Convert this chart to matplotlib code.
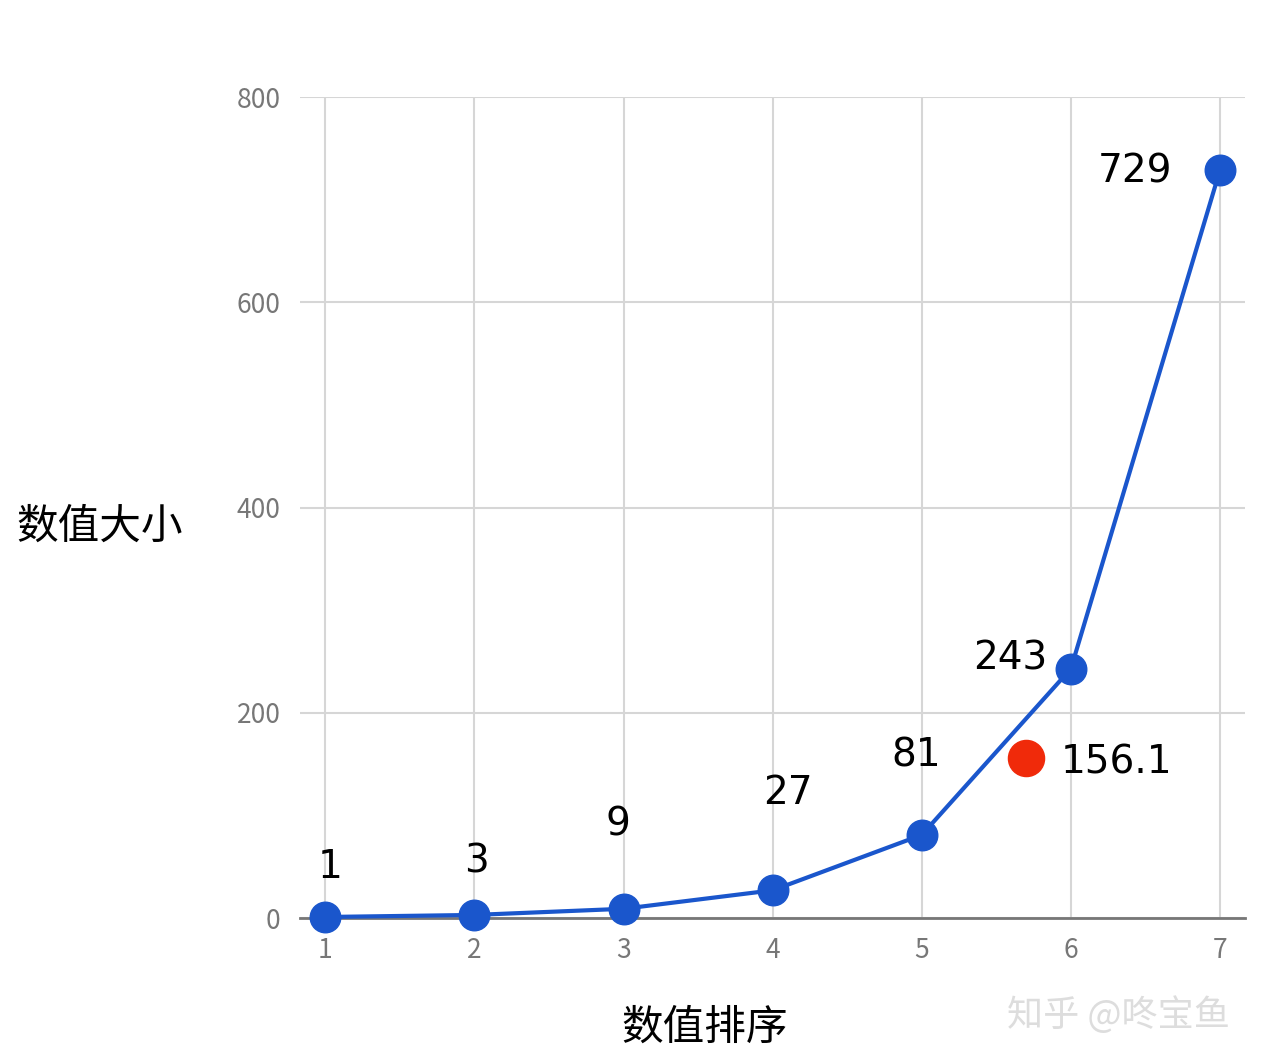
import matplotlib
matplotlib.use("Agg")
import matplotlib.pyplot as plt

plt.rcParams['font.family'] = ['Noto Sans CJK SC', 'DejaVu Sans']

x_vals = [1, 2, 3, 4, 5, 6, 7]
y_vals = [1, 3, 9, 27, 81, 243, 729]
red_x = 5.7
red_y = 156.1
labels = ["1", "3", "9", "27", "81", "243", "729"]
x_ticks = [1, 2, 3, 4, 5, 6, 7]
y_ticks = [0, 200, 400, 600, 800]

# label offsets in pixels (dx, dy up)
offs = [(5, 50), (2, 53), (-6, 84), (15, 97), (-6, 79), (-61, 10), (-85, -2)]

fig = plt.figure(figsize=(12.69, 10.64), dpi=100)
ax = fig.add_axes([0.2364, 0.1372, 0.745, 0.7716])
blue = '#1a56cc'
ax.plot(x_vals, y_vals, color=blue, lw=3, marker='o', ms=22, zorder=3, clip_on=False)
ax.plot([red_x], [red_y], 'o', color='#f02a0a', ms=26, zorder=4)
for xv, yv, lab, (dx, dy) in zip(x_vals, y_vals, labels, offs):
    ax.annotate(lab, (xv, yv), xytext=(dx * 0.72, dy * 0.72), textcoords='offset points',
                ha='center', va='center', fontsize=28, color='black', family='DejaVu Sans')
ax.annotate(f"{red_y}", (red_x, red_y), xytext=(90 * 0.72, -5 * 0.72), textcoords='offset points',
            ha='center', va='center', fontsize=28, color='black', family='DejaVu Sans')

ax.set_xlim(0.83, 7.17)
ax.set_ylim(0, 800)
ax.set_xticks(x_ticks)
ax.set_yticks(y_ticks)
ax.grid(True, color='#d6d6d6', lw=1.5)
ax.set_axisbelow(True)
for s in ['top', 'right', 'left']:
    ax.spines[s].set_visible(False)
ax.spines['bottom'].set_color('#777777')
ax.spines['bottom'].set_linewidth(2)
ax.tick_params(length=0, labelsize=19, labelcolor='#777777', pad=14)
ax.tick_params(axis='y', pad=14)

fig.text(100 / 1269, 1 - 527 / 1064, "数值大小", fontsize=30, ha='center', va='center')
fig.text(705 / 1269, 1 - 1028 / 1064, "数值排序", fontsize=30, ha='center', va='center')
fig.text(1118 / 1269, 1 - 1015 / 1064, "知乎 @咚宝鱼", fontsize=26, ha='center', va='center', color='#dddddd')

fig.savefig("out.png", dpi=100)
